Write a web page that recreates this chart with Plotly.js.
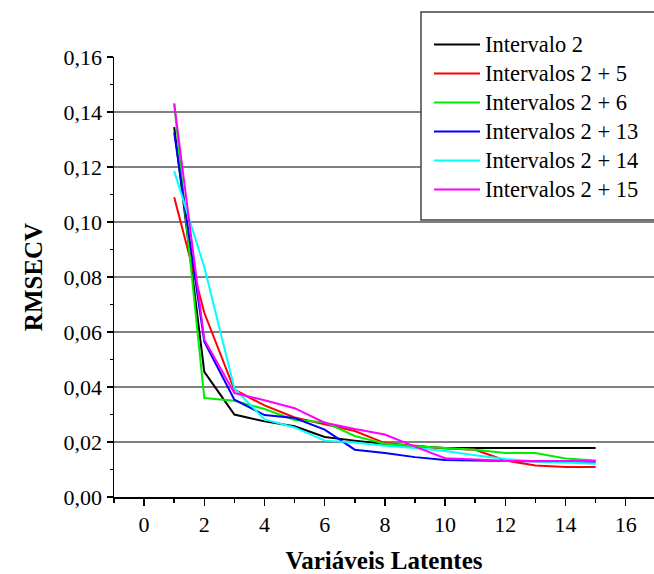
<!DOCTYPE html>
<html>
<head>
<meta charset="utf-8">
<script src="https://cdn.plot.ly/plotly-3.0.1.min.js"></script>
<style>html,body{margin:0;padding:0;background:#fff;}#chart{width:654px;height:574px;}</style>
</head>
<body>
<div id="chart"></div>
<script>
const latentVars = [1, 2, 3, 4, 5, 6, 7, 8, 9, 10, 11, 12, 13, 14, 15];
const seriesNames = ["Intervalo 2", "Intervalos 2 + 5", "Intervalos 2 + 6", "Intervalos 2 + 13", "Intervalos 2 + 14", "Intervalos 2 + 15"];
const int2   = [0.1345, 0.0455, 0.0300, 0.0275, 0.0257, 0.0218, 0.0205, 0.0193, 0.0185, 0.0178, 0.0178, 0.0178, 0.0178, 0.0178, 0.0178];
const int2_5 = [0.1090, 0.0670, 0.0390, 0.0333, 0.0289, 0.0265, 0.0240, 0.0196, 0.0185, 0.0176, 0.0172, 0.0133, 0.0115, 0.0109, 0.0109];
const int2_6 = [0.1430, 0.0360, 0.0350, 0.0320, 0.0280, 0.0272, 0.0222, 0.0194, 0.0185, 0.0178, 0.0172, 0.0160, 0.0160, 0.0140, 0.0133];
const int2_13 = [0.1325, 0.0565, 0.0354, 0.0298, 0.0287, 0.0245, 0.0172, 0.0160, 0.0145, 0.0135, 0.0133, 0.0131, 0.0131, 0.0128, 0.0128];
const int2_14 = [0.1185, 0.0836, 0.0395, 0.0282, 0.0253, 0.0205, 0.0198, 0.0186, 0.0178, 0.0167, 0.0152, 0.0138, 0.0130, 0.0125, 0.0121];
const int2_15 = [0.1431, 0.0572, 0.0378, 0.0352, 0.0323, 0.0270, 0.0247, 0.0227, 0.0183, 0.0141, 0.0136, 0.0131, 0.0131, 0.0131, 0.0131];
const seriesValues = [int2, int2_5, int2_6, int2_13, int2_14, int2_15];
const colors = ["#000000", "#ff0000", "#00ee00", "#0000ff", "#00ffff", "#ff00ff"];
const yTickVals = [0, 0.02, 0.04, 0.06, 0.08, 0.10, 0.12, 0.14, 0.16];
const yTickText = ["0,00", "0,02", "0,04", "0,06", "0,08", "0,10", "0,12", "0,14", "0,16"];
const gridVals = [0.02, 0.04, 0.06, 0.08, 0.10, 0.12, 0.14];
const xTickVals = [0, 2, 4, 6, 8, 10, 12, 14, 16];

const font = "Liberation Serif, Times New Roman, Times, serif";

const traces = seriesValues.map((vals, i) => ({
  x: latentVars, y: vals, name: '<span style="font-size:22.5px">' + seriesNames[i] + '</span>',
  type: "scatter", mode: "lines",
  line: {color: colors[i], width: 2}
}));
traces.push({x: [0], y: [0], yaxis: "y2", showlegend: false, hoverinfo: "skip", mode: "markers", marker: {opacity: 0}});

const layout = {
  width: 654, height: 574,
  margin: {l: 114, r: 0, t: 57, b: 77},
  paper_bgcolor: "#fff", plot_bgcolor: "rgba(0,0,0,0)",
  font: {family: font, color: "#000", size: 22},
  showlegend: true,
  xaxis: {
    range: [-1, 16.94], tickvals: xTickVals, ticks: "outside", ticklen: 7, tickwidth: 1.5, tickcolor: "#000",
    minor: {dtick: 1, tick0: 0, ticks: "outside", ticklen: 4, tickwidth: 1.5, tickcolor: "#000", showgrid: false},
    showline: true, linecolor: "#000", linewidth: 1.5, showgrid: false, zeroline: false,
    tickfont: {family: font, size: 22},
    title: {text: "<b>Variáveis Latentes</b>", font: {family: font, size: 25}, standoff: 16}
  },
  yaxis: {
    range: [0, 0.16], tickvals: yTickVals, ticktext: yTickText, ticks: "outside", ticklen: 6, tickwidth: 1.5, tickcolor: "#000",
    minor: {dtick: 0.01, tick0: 0, ticks: "outside", ticklen: 3, tickwidth: 1.5, tickcolor: "#000", showgrid: false},
    showline: true, linecolor: "#000", linewidth: 1.5, showgrid: false, zeroline: false,
    tickfont: {family: font, size: 22},
    title: {text: "<b>RMSECV</b>", font: {family: font, size: 25}, standoff: 14}
  },
  yaxis2: {
    overlaying: "y", range: [0, 0.16], tickvals: gridVals, showticklabels: false, ticks: "",
    showgrid: true, gridcolor: "#808080", gridwidth: 2, zeroline: false, showline: false, layer: "below traces"
  },
  shapes: [{
    type: "rect", xref: "paper", yref: "paper", layer: "above",
    x0: (421 - 114) / 540, x1: 1.01, y0: (497 - 220) / 440, y1: (497 - 12) / 440,
    fillcolor: "#ffffff", line: {color: "#444", width: 1.5}
  }],
  legend: {
    x: (429 - 114) / 540, y: (497 - 25) / 440, xanchor: "left", yanchor: "top",
    bgcolor: "rgba(0,0,0,0)", borderwidth: 0,
    font: {family: font, size: 20}, itemwidth: 46, tracegroupgap: 0
  }
};

Plotly.newPlot("chart", traces, layout, {displayModeBar: false, staticPlot: true});
</script>
</body>
</html>
